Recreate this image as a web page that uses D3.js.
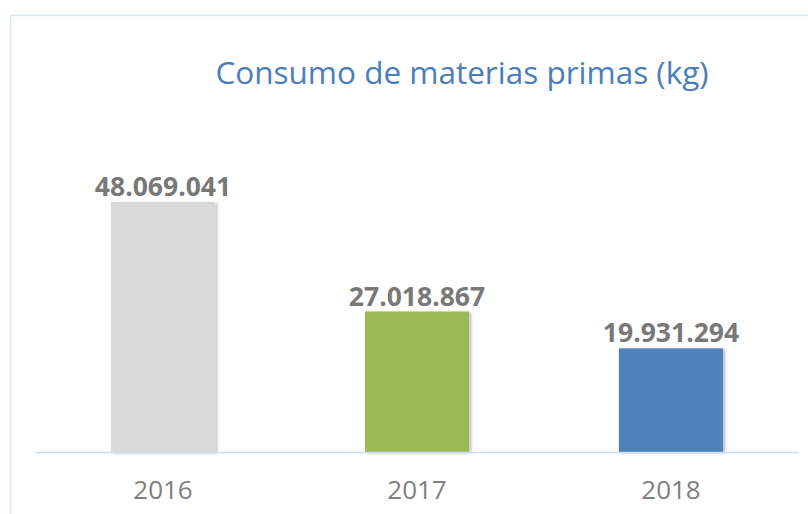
<!DOCTYPE html>
<html>
<head>
<meta charset="utf-8">
<script src="https://cdn.jsdelivr.net/npm/d3@7"></script>
<style>
  html, body { margin: 0; padding: 0; background: #ffffff; }
  svg { display: block; }
</style>
</head>
<body>
<svg id="chart" width="808" height="514"></svg>
<script>
// Annual raw material consumption, kilograms
const years = ["2016", "2017", "2018"];
const consumption = [48069041, 27018867, 19931294];
const barColors = ["#d9d9d9", "#9bbb59", "#4f81bd"];
const chartTitle = "Consumo de materias primas (kg)";

const W = 808, H = 514;
const svg = d3.select("#chart");

// drop shadow on the bars
const defs = svg.append("defs");
const f = defs.append("filter").attr("id", "shadow")
  .attr("x", "-10%").attr("y", "-10%").attr("width", "130%").attr("height", "120%");
f.append("feDropShadow").attr("dx", 2).attr("dy", 1).attr("stdDeviation", 1.6)
  .attr("flood-color", "#000").attr("flood-opacity", 0.28);

// outer chart frame
svg.append("rect")
  .attr("x", 10.5).attr("y", 15.5)
  .attr("width", W + 20).attr("height", H + 20)
  .attr("fill", "none").attr("stroke", "#d5e3f5").attr("stroke-width", 1.5);

const x = d3.scaleBand()
  .domain(years)
  .range([36, 798])
  .paddingInner(0.59)
  .paddingOuter(0.295);

const y = d3.scaleLinear()
  .domain([0, 60000000])
  .range([452, 140]);

const fmt = v => d3.format(",")(v).replace(/,/g, ".");

// bars
svg.append("g").selectAll("rect")
  .data(years)
  .join("rect")
  .attr("x", d => x(d))
  .attr("y", (d, i) => y(consumption[i]))
  .attr("width", x.bandwidth())
  .attr("height", (d, i) => y(0) - y(consumption[i]))
  .attr("fill", (d, i) => barColors[i])
  .attr("filter", "url(#shadow)");

// category axis line
svg.append("line")
  .attr("x1", 36).attr("x2", 798)
  .attr("y1", y(0) + 0.5).attr("y2", y(0) + 0.5)
  .attr("stroke", "#cddcf0").attr("stroke-width", 1.5);

// value labels
svg.append("g").selectAll("text")
  .data(years)
  .join("text")
  .attr("x", d => x(d) + x.bandwidth() / 2)
  .attr("y", (d, i) => y(consumption[i]) - 6)
  .attr("text-anchor", "middle")
  .attr("font-family", "'Open Sans', sans-serif")
  .attr("font-weight", 700)
  .attr("font-size", 26.5)
  .attr("fill", "#787878")
  .text((d, i) => fmt(consumption[i]));

// category labels
const xAxis = svg.append("g")
  .attr("transform", `translate(0,${y(0)})`)
  .call(d3.axisBottom(x).tickSize(0).tickPadding(0));
xAxis.select(".domain").remove();
xAxis.selectAll("text")
  .attr("dy", 0)
  .attr("y", 47)
  .attr("font-family", "'Open Sans', sans-serif")
  .attr("font-size", 26)
  .attr("fill", "#7f7f7f");

// title
svg.append("text")
  .attr("x", 462).attr("y", 84)
  .attr("text-anchor", "middle")
  .attr("font-family", "'Open Sans', sans-serif")
  .attr("font-size", 31.5)
  .attr("fill", "#4a7ebb")
  .text(chartTitle);
</script>
</body>
</html>
